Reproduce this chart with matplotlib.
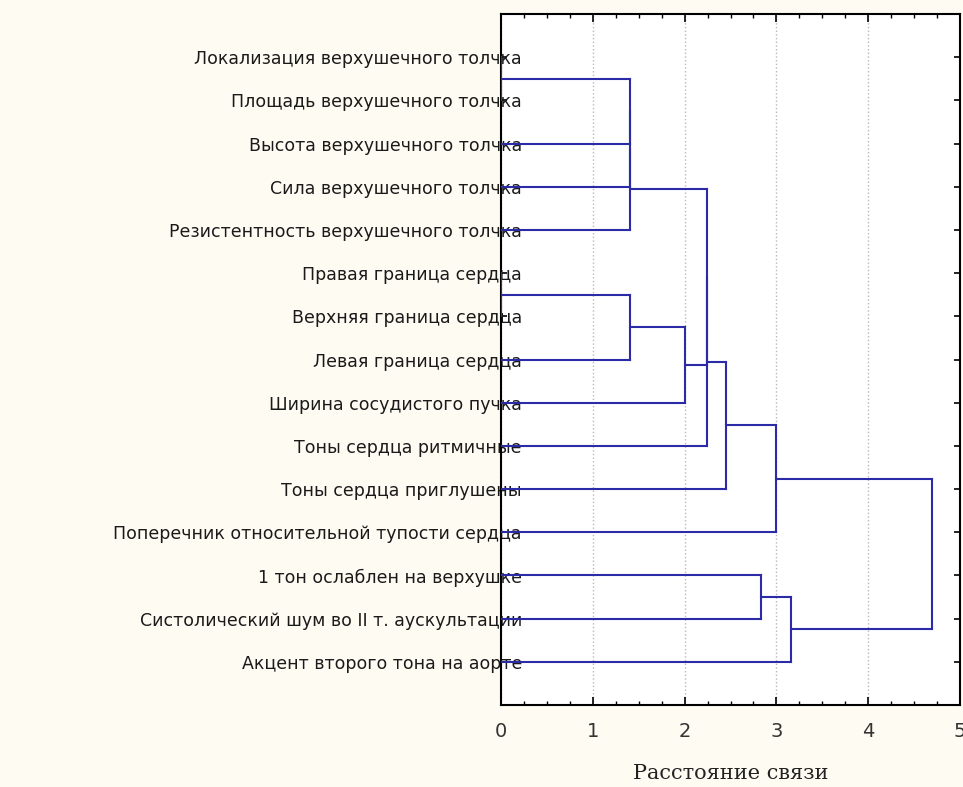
import matplotlib
matplotlib.use("Agg")
import matplotlib.pyplot as plt
from matplotlib.ticker import MultipleLocator

labels = [
    "Локализация верхушечного толчка",
    "Площадь верхушечного толчка",
    "Высота верхушечного толчка",
    "Сила верхушечного толчка",
    "Резистентность верхушечного толчка",
    "Правая граница сердца",
    "Верхняя граница сердца",
    "Левая граница сердца",
    "Ширина сосудистого пучка",
    "Тоны сердца ритмичные",
    "Тоны сердца приглушены",
    "Поперечник относительной тупости сердца",
    "1 тон ослаблен на верхушке",
    "Систолический шум во II т. аускультации",
    "Акцент второго тона на аорте",
]

# amalgamation schedule; ids >= len(labels) refer to earlier merges
merge_a = [0, 15, 16, 17, 5, 19, 20, 18, 22, 23, 24, 12, 26, 25]
merge_b = [1, 2, 3, 4, 6, 7, 8, 21, 9, 10, 11, 13, 14, 27]
merge_dist = [0.0, 1.41, 1.41, 1.41, 0.0, 1.41, 2.0, 2.24, 2.24, 2.45, 3.0, 2.83, 3.16, 4.69]

x_ticks = [0, 1, 2, 3, 4, 5]
x_label = "Расстояние связи"

LINE = "#2b2ba8"
BG = "#fdfbf2"

fig = plt.figure(figsize=(9.63, 7.87), dpi=100, facecolor=BG)
ax = fig.add_axes([0.5203, 0.1042, 0.4766, 0.878])
ax.set_facecolor("white")

node_x = [0.0] * len(labels)
node_y = [float(i) for i in range(len(labels))]
for a, b, d in zip(merge_a, merge_b, merge_dist):
    ax.plot([node_x[a], d], [node_y[a], node_y[a]], color=LINE, lw=1.5, zorder=3)
    ax.plot([node_x[b], d], [node_y[b], node_y[b]], color=LINE, lw=1.5, zorder=3)
    ax.plot([d, d], [node_y[a], node_y[b]], color=LINE, lw=1.5, zorder=3)
    node_x.append(d)
    node_y.append((node_y[a] + node_y[b]) / 2)

ax.set_xlim(0, 5)
ax.set_ylim(len(labels), -1)
ax.set_xticks(x_ticks)
ax.set_xticklabels([str(t) for t in x_ticks], fontsize=14, color="#333333")
ax.xaxis.set_minor_locator(MultipleLocator(0.25))
ax.set_yticks(range(len(labels)))
ax.set_yticklabels(labels, fontsize=12.5, color="#1a1a1a")

ax.tick_params(axis="x", which="major", direction="in", top=True, length=6, width=1.2, pad=12)
ax.tick_params(axis="x", which="minor", direction="in", top=True, length=3, width=1)
ax.tick_params(axis="y", direction="in", left=True, right=True, length=4, width=1.2, pad=-15)

ax.grid(axis="x", linestyle=":", color="#b8b8b8", lw=1, zorder=0)
for s in ax.spines.values():
    s.set_linewidth(1.5)
    s.set_color("black")

ax.set_xlabel(x_label, fontsize=15, family="DejaVu Serif", color="#222222", labelpad=17)

fig.savefig("out.png", dpi=100, facecolor=BG)
